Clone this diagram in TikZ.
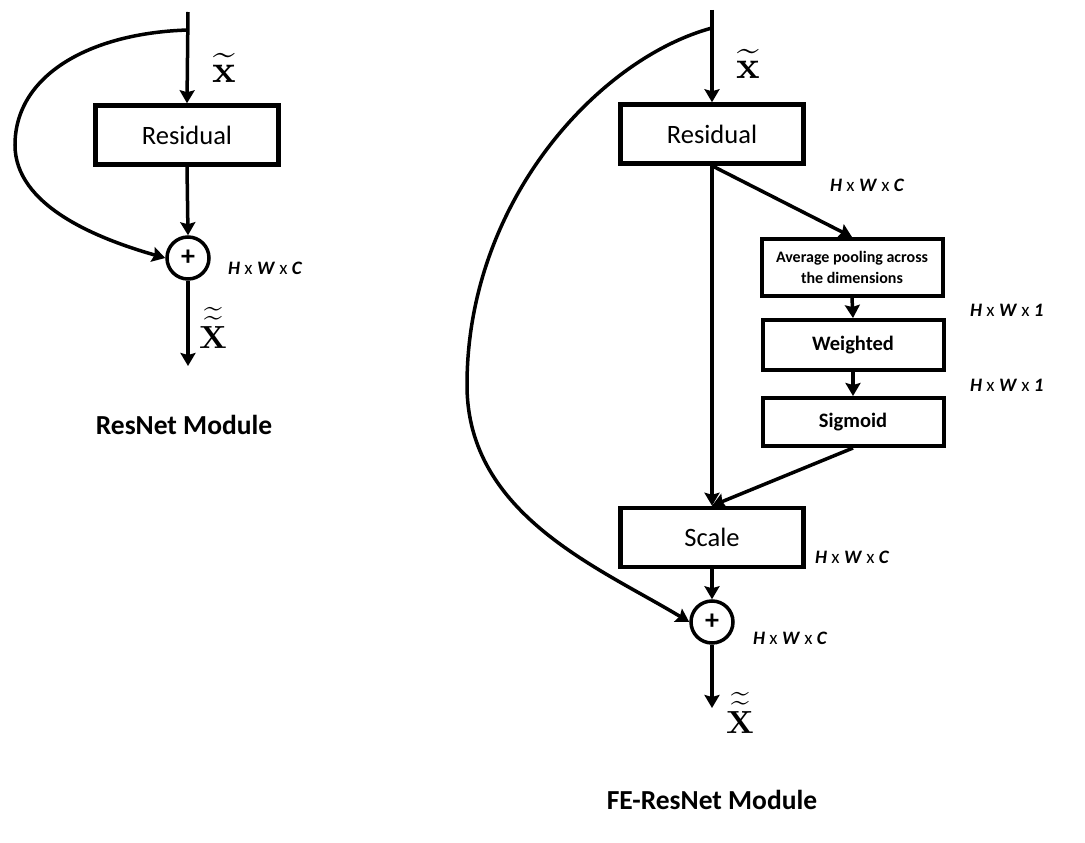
\documentclass[tikz,border=0pt]{standalone}
\usepackage[no-math]{fontspec}
\setmainfont{Carlito}
\usetikzlibrary{arrows.meta}
\newcommand{\dimlabel}[3]{\textbf{\textit{#1}} x \textbf{\textit{#2}} x \textbf{\textit{#3}}}
\newcommand{\vecin}{\scalebox{3.9}{$\widetilde{\mathbf{x}}$}}
\newcommand{\vecout}{\scalebox{3.2}{$\widetilde{\widetilde{\mathbf{X}}}$}}
\begin{document}
\begin{tikzpicture}[x=1pt,y=-1pt,
  arr/.style={line width=3.5pt,-{Stealth[length=13pt,width=15pt,inset=2pt]}},
  blk/.style={draw,line width=4.5pt,minimum width=183pt,minimum height=59pt,inner sep=0pt,font=\fontsize{26.5}{26.5}\selectfont},
  sblk/.style={draw,line width=4pt,minimum width=181pt,inner sep=0pt,font=\bfseries\fontsize{20.5}{20.5}\selectfont},
  addop/.style={draw,circle,line width=3.5pt,minimum size=42pt,inner sep=0pt,font=\bfseries\fontsize{28}{28}\selectfont},
  dim/.style={anchor=west,inner sep=0pt,font=\fontsize{19}{19}\selectfont},
  vec/.style={anchor=base,inner sep=0pt},
  title/.style={inner sep=0pt,font=\bfseries\fontsize{27.5}{27.5}\selectfont}]
\useasboundingbox (0,0) rectangle (1085,843);

% ---------- ResNet module ----------
\coordinate (Lin) at (188,12);
\coordinate (Lsplit) at (188,30);
\node[blk] (Lres) at (187,135) {Residual};
\node[addop] (Ladd) at (188,258) {+};
\coordinate (Lout) at (188,366);
\draw[arr] (Lin) -- (Lres.north);
\draw[arr] (Lres.south) -- (Ladd.north);
\draw[arr] (Ladd.south) -- (Lout);
\draw[arr] (Lsplit) .. controls (90,33) and (15,75) .. (15,145)
                    .. controls (15,205) and (95,238) .. (Ladd.west);
\node[vec] (Lx) at (224,82) {\vecin};
\node[vec] (LX) at (213,348) {\vecout};
\node[dim] (Ldim) at (228,268) {\dimlabel{H}{W}{C}};
\node[title] (Ltitle) at (184,425) {ResNet Module};

% ---------- FE-ResNet module ----------
\coordinate (Rin) at (712,10);
\coordinate (Rsplit) at (712,28);
\node[blk] (Rres) at (712,134) {Residual};
\node[sblk,minimum height=57pt,align=center,font=\bfseries\fontsize{16}{20.5}\selectfont] (avg) at (852,267.5) {Average pooling across\\the dimensions};
\node[sblk,minimum height=50pt] (wgt) at (853,345) {Weighted};
\node[sblk,minimum height=48pt] (sig) at (853,422) {Sigmoid};
\node[blk] (scale) at (712,537.5) {Scale};
\node[addop] (Radd) at (712,622) {+};
\coordinate (Rout) at (712,708);

\draw[arr] (Rin) -- (Rres.north);
\draw[arr] (Rres.south) -- (scale.north);
\draw[arr] (Rres.south) -- (avg.north);
\draw[arr] (avg.south) -- (wgt.north);
\draw[arr] (wgt.south) -- (sig.north);
\draw[arr] (sig.south) -- (scale.north);
\draw[arr] (scale.south) -- (Radd.north);
\draw[arr] (Radd.south) -- (Rout);
\draw[arr] (Rsplit) .. controls (600,58) and (467,200) .. (467,385)
                    .. controls (467,515) and (600,568) .. (Radd.west);

\node[vec] (Rx) at (748,78) {\vecin};
\node[vec] (RX) at (740,733) {\vecout};
\node[dim] (d1) at (830,185) {\dimlabel{H}{W}{C}};
\node[dim] (d2) at (970,310) {\dimlabel{H}{W}{1}};
\node[dim] (d3) at (970,385) {\dimlabel{H}{W}{1}};
\node[dim] (d4) at (815,557) {\dimlabel{H}{W}{C}};
\node[dim] (d5) at (753,638) {\dimlabel{H}{W}{C}};
\node[title] (Rtitle) at (712,800) {FE-ResNet Module};
\end{tikzpicture}
\end{document}
